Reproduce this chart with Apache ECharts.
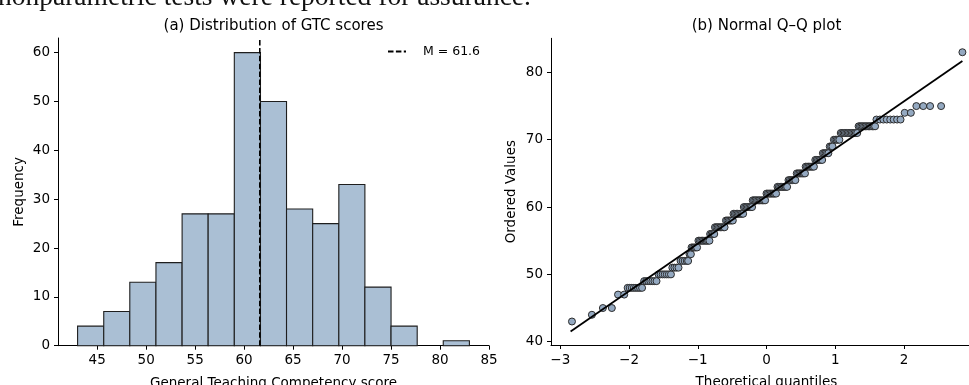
<!DOCTYPE html>
<html>
<head>
<meta charset="utf-8">
<script src="https://cdn.jsdelivr.net/npm/echarts@6/dist/echarts.min.js"></script>
<style>
  html, body { margin: 0; padding: 0; background: #fff; }
  #chart { width: 969px; height: 385px; }
</style>
</head>
<body>
<div id="chart"></div>
<script>
// (a) histogram of GTC scores
const binEdges = [43, 45.67, 48.33, 51, 53.67, 56.33, 59, 61.67, 64.33, 67, 69.67, 72.33, 75, 77.67, 80.33, 83];
const binCounts = [4, 7, 13, 17, 27, 27, 60, 50, 28, 25, 33, 12, 4, 0, 1];
const meanScore = 61.6;
const histXTicks = [45, 50, 55, 60, 65, 70, 75, 80, 85];
const histYTicks = [0, 10, 20, 30, 40, 50, 60];

// (b) normal Q-Q plot: ordered value levels and theoretical quantiles read per level
const qqLevels = [43, 44, 45, 47, 48, 49, 50, 51, 52, 53, 54, 55, 56, 57, 58, 59, 60, 61, 62, 63, 64, 65, 66, 67, 68, 69, 70, 71, 72, 73, 74, 75, 83];
const qqQuantiles = [
  [-2.83],
  [-2.54],
  [-2.38, -2.25],
  [-2.16, -2.07],
  [-2.02, -1.99, -1.96, -1.93, -1.90, -1.87, -1.84, -1.81],
  [-1.78, -1.75, -1.72, -1.69, -1.66, -1.63, -1.60],
  [-1.57, -1.54, -1.51, -1.48, -1.45, -1.42, -1.39],
  [-1.37, -1.34, -1.31, -1.28],
  [-1.25, -1.22, -1.19, -1.16, -1.14],
  [-1.12, -1.10],
  [-1.09, -1.07, -1.05, -1.03, -1.01],
  [-0.99, -0.97, -0.95, -0.93, -0.91, -0.89, -0.87, -0.85, -0.83],
  [-0.82, -0.80, -0.78, -0.76],
  [-0.75, -0.73, -0.71, -0.69, -0.67, -0.65, -0.63, -0.61],
  [-0.59, -0.57, -0.55, -0.53, -0.51, -0.49],
  [-0.48, -0.46, -0.44, -0.42, -0.40, -0.38, -0.36, -0.34],
  [-0.33, -0.31, -0.29, -0.27, -0.25, -0.23, -0.21],
  [-0.20, -0.18, -0.16, -0.14, -0.12, -0.10, -0.08, -0.06, -0.04, -0.02],
  [0.00, 0.02, 0.04, 0.06, 0.08, 0.10, 0.12, 0.14],
  [0.16, 0.18, 0.20, 0.22, 0.24, 0.26, 0.28, 0.30],
  [0.32, 0.34, 0.36, 0.38, 0.40, 0.42],
  [0.44, 0.46, 0.48, 0.50, 0.52, 0.54, 0.56],
  [0.57, 0.59, 0.61, 0.63, 0.65, 0.67, 0.69],
  [0.71, 0.73, 0.75, 0.77, 0.79, 0.81],
  [0.82, 0.84, 0.86, 0.88, 0.90],
  [0.92, 0.94, 0.96],
  [0.98, 1.00, 1.02, 1.04, 1.06],
  [1.08, 1.10, 1.12, 1.14, 1.16, 1.18, 1.20, 1.22, 1.24, 1.26, 1.28, 1.30, 1.32],
  [1.34, 1.36, 1.38, 1.40, 1.42, 1.44, 1.46, 1.48, 1.50, 1.52, 1.54, 1.56, 1.58],
  [1.60, 1.65, 1.70, 1.75, 1.80, 1.85, 1.90, 1.95],
  [2.01, 2.10],
  [2.18, 2.28, 2.38, 2.54],
  [2.85]
];
const fitLineQ = [-2.85, 2.85];
const fitLineV = [41.5, 81.7];
const qqXTicks = [-3, -2, -1, 0, 1, 2, 3];
const qqYTicks = [40, 50, 60, 70, 80];

const FONT = 'DejaVu Sans';
const INK = '#000';

const histData = binCounts.map((c, i) => [binEdges[i], binEdges[i + 1], c]);
const qqData = [];
qqLevels.forEach((v, i) => qqQuantiles[i].forEach(q => qqData.push([q, v])));
const fitData = fitLineQ.map((q, i) => [q, fitLineV[i]]);

function baseAxis(extra) {
  return Object.assign({
    type: 'value',
    splitLine: { show: false },
    axisLine: { show: true, onZero: false, lineStyle: { color: INK, width: 1 } },
    axisTick: { show: true, length: 4, lineStyle: { color: INK, width: 1 } },
    axisLabel: { color: INK, fontFamily: FONT, fontSize: 13.5 },
    nameLocation: 'middle',
    nameTextStyle: { color: INK, fontFamily: FONT, fontSize: 13.5 }
  }, extra);
}
function withTicks(axis, ticks, fmt) {
  axis.axisTick.customValues = ticks;
  axis.axisLabel.customValues = ticks;
  if (fmt) axis.axisLabel.formatter = fmt;
  return axis;
}
const minus = v => String(v).replace('-', '\u2212');

const chart = echarts.init(document.getElementById('chart'), null, { renderer: 'canvas' });

chart.setOption({
  animation: false,
  backgroundColor: '#fff',
  graphic: [
    { type: 'text', x: -2, y: -2, style: { text: 'nonparametric tests were reported for assurance.', fontFamily: 'Liberation Serif', fontSize: 27.5, fill: '#111', verticalAlign: 'middle' } },
    { type: 'text', x: 273.5, y: 26, style: { text: '(a) Distribution of GTC scores', fontFamily: FONT, fontSize: 15, fill: INK, align: 'center', verticalAlign: 'middle' } },
    { type: 'text', x: 766.5, y: 26, style: { text: '(b) Normal Q\u2013Q plot', fontFamily: FONT, fontSize: 15, fill: INK, align: 'center', verticalAlign: 'middle' } }
  ],
  legend: {
    left: 387, top: 45, padding: 0,
    itemWidth: 18, itemHeight: 14,
    data: ['M = 61.6'],
    itemStyle: { color: 'rgba(0,0,0,0)', borderWidth: 0 },
    textStyle: { color: INK, fontFamily: FONT, fontSize: 12.5, padding: [0, 0, 0, 12] }
  },
  grid: [
    { left: 58, right: 480, top: 38, bottom: 39.3, outerBoundsMode: 'none', containLabel: false },
    { left: 551, width: 431, top: 38.3, bottom: 40, outerBoundsMode: 'none', containLabel: false }
  ],
  xAxis: [
    withTicks(baseAxis({ gridIndex: 0, min: 41, max: 85, name: 'General Teaching Competency score', nameGap: 31 }), histXTicks),
    withTicks(baseAxis({ gridIndex: 1, min: -3.135, max: 3.135, name: 'Theoretical quantiles', nameGap: 30 }), qqXTicks, minus)
  ],
  yAxis: [
    withTicks(baseAxis({ gridIndex: 0, min: 0, max: 63, name: 'Frequency', nameGap: 32 }), histYTicks),
    withTicks(baseAxis({ gridIndex: 1, min: 39.51, max: 85.07, name: 'Ordered Values', nameGap: 33 }), qqYTicks)
  ],
  series: [
    {
      type: 'custom',
      xAxisIndex: 0, yAxisIndex: 0,
      encode: { x: [0, 1], y: 2 },
      data: histData,
      renderItem: function (params, api) {
        const h = api.value(2);
        if (!h) return null;
        const p0 = api.coord([api.value(0), h]);
        const p1 = api.coord([api.value(1), 0]);
        return {
          type: 'rect',
          shape: { x: p0[0], y: p0[1], width: p1[0] - p0[0], height: p1[1] - p0[1] },
          style: { fill: '#aabfd4', stroke: '#1e1e1e', lineWidth: 1.1 }
        };
      }
    },
    {
      name: 'M = 61.6',
      type: 'line',
      xAxisIndex: 0, yAxisIndex: 0,
      symbol: 'none',
      z: 5,
      itemStyle: { color: '#000' },
      lineStyle: { color: '#000', width: 1.6, type: [5.5, 2.4] },
      data: [[meanScore, 0], [meanScore, 63]]
    },
    {
      type: 'scatter',
      xAxisIndex: 1, yAxisIndex: 1,
      symbolSize: 7,
      itemStyle: { color: '#94a9c1', borderColor: '#2c2c2c', borderWidth: 1, opacity: 1 },
      data: qqData
    },
    {
      type: 'line',
      xAxisIndex: 1, yAxisIndex: 1,
      symbol: 'none',
      z: 6,
      lineStyle: { color: '#000', width: 1.8 },
      data: fitData
    }
  ]
});
</script>
</body>
</html>
